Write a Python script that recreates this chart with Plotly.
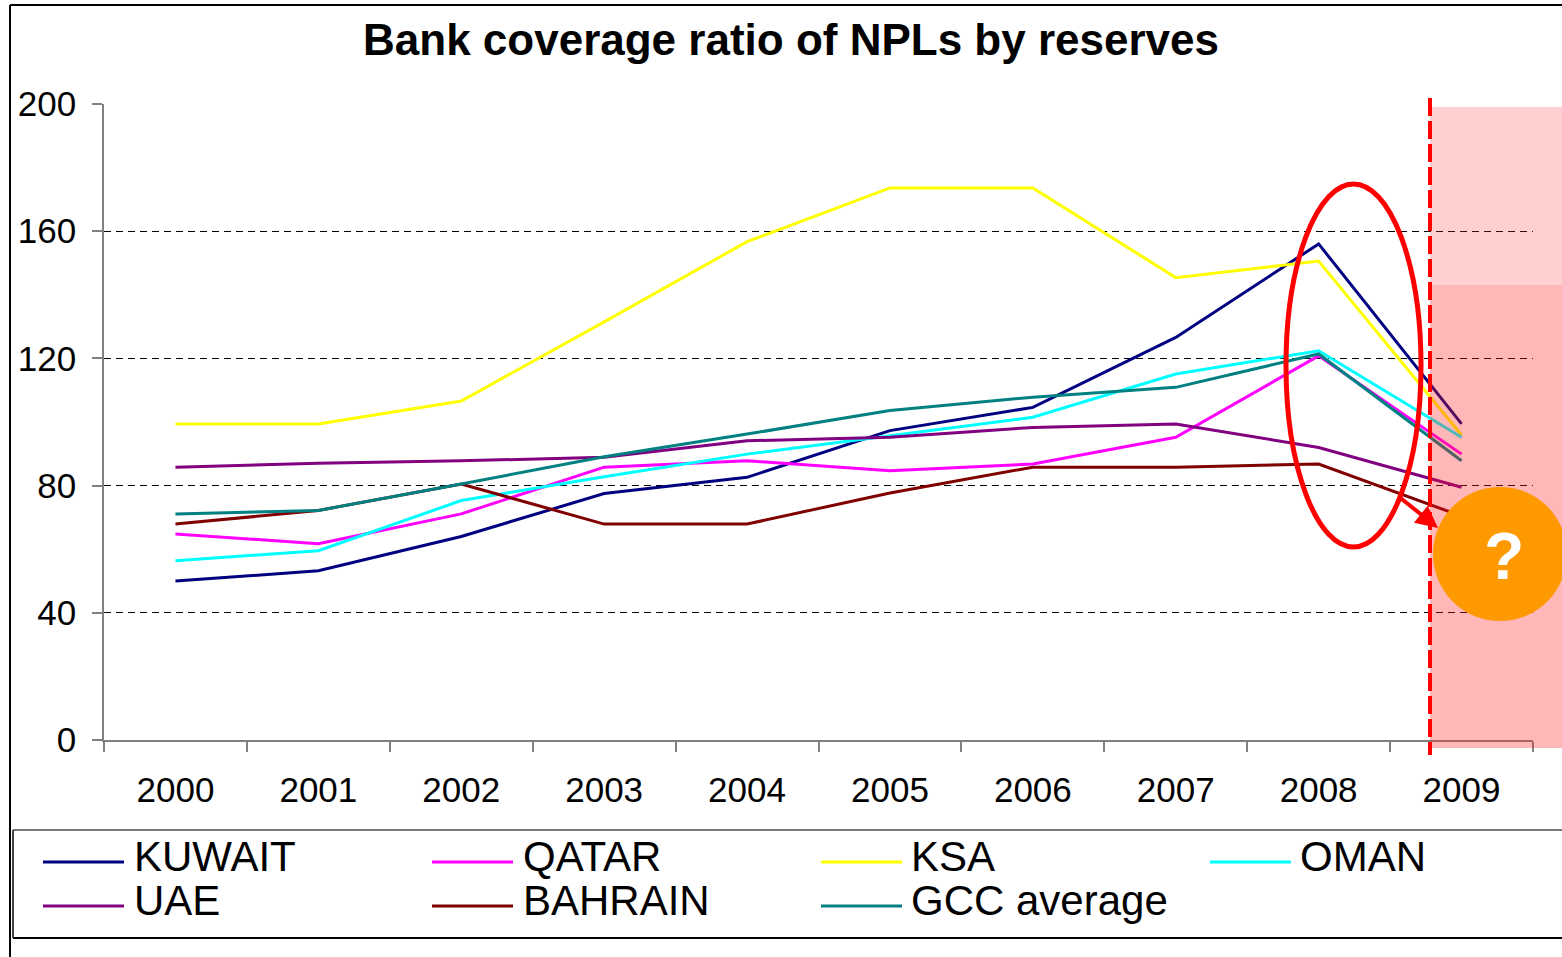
import plotly.graph_objects as go

# ---------------- data ----------------
years = ["2000", "2001", "2002", "2003", "2004", "2005", "2006", "2007", "2008", "2009"]
series_names = ["KUWAIT", "QATAR", "KSA", "OMAN", "UAE", "BAHRAIN", "GCC average"]
kuwait = [50.0, 53.2, 64.0, 77.5, 82.6, 97.3, 104.6, 126.6, 156.0, 99.4]
qatar = [64.8, 61.7, 71.1, 85.8, 87.8, 84.7, 86.8, 95.2, 120.8, 89.9]
ksa = [99.4, 99.4, 106.6, 131.5, 156.7, 173.6, 173.6, 145.4, 150.6, 95.9]
oman = [56.4, 59.5, 75.3, 82.8, 89.9, 95.6, 101.5, 115.1, 122.4, 95.2]
uae = [85.8, 87.0, 87.8, 88.9, 94.1, 95.2, 98.3, 99.4, 92.0, 79.5]
bahrain = [67.9, 72.2, 80.5, 67.9, 67.9, 77.7, 85.8, 85.8, 86.8, 70.4]
gcc = [71.1, 72.2, 80.5, 89.1, 96.2, 103.6, 107.8, 110.9, 121.4, 87.8]
y_ticks = [0, 40, 80, 120, 160, 200]

series_values = [kuwait, qatar, ksa, oman, uae, bahrain, gcc]
colors = ["#000080", "#FF00FF", "#FFFF00", "#00FFFF", "#800080", "#800000", "#008080"]

# ---------------- layout geometry ----------------
W, H = 1562, 957
L, R, T, B = 104, 29, 104, 217
PW, PH = W - L - R, H - T - B
FONT = "Arial, Liberation Sans, sans-serif"


def px(xp):
    return (xp - L) / PW


def py(yp):
    return (H - B - yp) / PH


fig = go.Figure()
for name, vals, col in zip(series_names, series_values, colors):
    fig.add_trace(go.Scatter(x=years, y=vals, mode="lines", name=name,
                             line=dict(color=col, width=3), showlegend=False))

shapes = []
annotations = []

# outer border (top & left)
shapes.append(dict(type="line", xref="paper", yref="paper", x0=px(10), x1=px(1570), y0=py(5), y1=py(5),
                   line=dict(color="black", width=2)))
shapes.append(dict(type="line", xref="paper", yref="paper", x0=px(10), x1=px(10), y0=py(5), y1=py(965),
                   line=dict(color="black", width=2)))

# legend box
shapes.append(dict(type="line", xref="paper", yref="paper", x0=px(13), x1=px(1570), y0=py(830), y1=py(830),
                   line=dict(color="#777777", width=2)))
shapes.append(dict(type="line", xref="paper", yref="paper", x0=px(13), x1=px(1570), y0=py(938), y1=py(938),
                   line=dict(color="black", width=2)))
shapes.append(dict(type="line", xref="paper", yref="paper", x0=px(13), x1=px(13), y0=py(830), y1=py(938),
                   line=dict(color="#444444", width=2)))

col_line = [(43, 124), (432, 513), (821, 902), (1210, 1291)]
col_text = [132, 521, 909, 1298]
row_line_y = [862, 906]
row_text_y = [857, 901]
for i, (name, col) in enumerate(zip(series_names, colors)):
    r, c = divmod(i, 4)
    shapes.append(dict(type="line", xref="paper", yref="paper",
                       x0=px(col_line[c][0]), x1=px(col_line[c][1]),
                       y0=py(row_line_y[r]), y1=py(row_line_y[r]),
                       line=dict(color=col, width=3)))
    annotations.append(dict(xref="paper", yref="paper", x=px(col_text[c]), y=py(row_text_y[r]),
                            text=name, showarrow=False, xanchor="left", yanchor="middle",
                            font=dict(family=FONT, size=42, color="black")))

# shaded forecast region
shapes.append(dict(type="rect", xref="paper", yref="paper", x0=px(1430), x1=px(1570), y0=py(285), y1=py(107),
                   fillcolor="rgba(255,40,40,0.22)", line=dict(width=0), layer="above"))
shapes.append(dict(type="rect", xref="paper", yref="paper", x0=px(1430), x1=px(1570), y0=py(748), y1=py(285),
                   fillcolor="rgba(255,30,30,0.32)", line=dict(width=0), layer="above"))
# red dashed vertical line
shapes.append(dict(type="line", xref="paper", yref="paper", x0=px(1430), x1=px(1430), y0=py(98), y1=py(755),
                   line=dict(color="#FF0000", width=4, dash="18px,5px"), layer="above"))
# red ellipse
shapes.append(dict(type="circle", xref="paper", yref="paper", x0=px(1286), x1=px(1421), y0=py(547), y1=py(184),
                   line=dict(color="#FF0000", width=5), layer="above"))
# orange circle
shapes.append(dict(type="circle", xref="paper", yref="paper", x0=px(1433), x1=px(1567), y0=py(621), y1=py(487),
                   fillcolor="#FF9900", line=dict(width=0), layer="above"))

# arrow
annotations.append(dict(xref="paper", yref="paper", x=px(1438), y=py(528), ax=-40, ay=-32,
                        axref="pixel", ayref="pixel", text="", showarrow=True,
                        arrowhead=2, arrowsize=1.1, arrowwidth=4, arrowcolor="#FF0000"))
# question mark
annotations.append(dict(xref="paper", yref="paper", x=px(1504), y=py(556), text="<b>?</b>",
                        showarrow=False, xanchor="center", yanchor="middle",
                        font=dict(family=FONT, size=66, color="white")))

fig.update_layout(
    width=W, height=H,
    margin=dict(l=L, r=R, t=T, b=B),
    paper_bgcolor="white", plot_bgcolor="white",
    title=dict(text="<b>Bank coverage ratio of NPLs by reserves</b>", x=791 / W, xanchor="center",
               y=1 - 40 / H, yanchor="middle", font=dict(family=FONT, size=44, color="black")),
    font=dict(family=FONT, color="black"),
    shapes=shapes, annotations=annotations,
    showlegend=False,
)
fig.update_xaxes(type="category", range=[-0.5, 9.5], tickson="boundaries", ticks="outside", ticklen=10,
                 tickcolor="#808080", tickwidth=1.5, showline=True, linecolor="#808080", linewidth=1.5,
                 showgrid=False, tickfont=dict(family=FONT, size=35, color="black"), ticklabelstandoff=18)
fig.update_yaxes(range=[0, 200], tickvals=y_ticks, ticks="outside", ticklen=10, tickcolor="#808080",
                 tickwidth=1.5, showline=True, linecolor="#808080", linewidth=1.5, showgrid=True,
                 gridcolor="black", gridwidth=1, griddash="7px,5px", zeroline=False,
                 tickfont=dict(family=FONT, size=35, color="black"), ticklabelstandoff=9)

fig.write_html("out.html")
